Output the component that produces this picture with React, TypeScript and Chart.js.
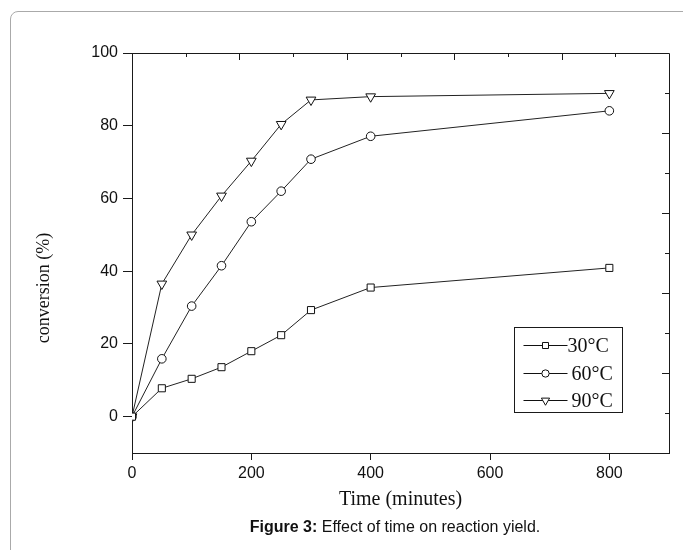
import React, { useEffect, useRef } from 'react';
import { Chart, registerables } from 'chart.js';

Chart.register(...registerables);

// ---- data ----
const times = [0, 50, 100, 150, 200, 250, 300, 400, 800];
const conv30 = [0, 7.8, 10.4, 13.6, 18.0, 22.4, 29.3, 35.5, 40.9];
const conv60 = [0, 15.9, 30.4, 41.5, 53.6, 62.0, 70.8, 77.1, 84.1];
const conv90 = [0, 36.5, 50.0, 60.7, 70.3, 80.4, 87.1, 88.0, 88.9];
const seriesLabels = ['30°C', '60°C', '90°C'];
const xTicks = [0, 200, 400, 600, 800];
const yTicks = [0, 20, 40, 60, 80, 100];
const xTitle = 'Time (minutes)';
const yTitle = 'conversion (%)';

const AXIS = '#1a1a1a';
const SANS = "'Liberation Sans', Arial, sans-serif";
const SERIF = "'Liberation Serif', 'Times New Roman', serif";

function drawMarker(ctx: CanvasRenderingContext2D, style: string, x: number, y: number, r: number, rot: number) {
  ctx.beginPath();
  if (style === 'rect') {
    const s = r * Math.SQRT1_2;
    ctx.rect(x - s, y - s, 2 * s, 2 * s);
  } else if (style === 'circle') {
    ctx.arc(x, y, r, 0, Math.PI * 2);
  } else if (style === 'triangle') {
    let rad = (rot * Math.PI) / 180;
    ctx.moveTo(x + Math.sin(rad) * r, y - Math.cos(rad) * r);
    rad += (2 * Math.PI) / 3;
    ctx.lineTo(x + Math.sin(rad) * r, y - Math.cos(rad) * r);
    rad += (2 * Math.PI) / 3;
    ctx.lineTo(x + Math.sin(rad) * r, y - Math.cos(rad) * r);
    ctx.closePath();
  }
  ctx.fillStyle = '#fff';
  ctx.fill();
  ctx.stroke();
}

const framePlugin = {
  id: 'frame',
  afterDraw(chart: any) {
    const { ctx, chartArea } = chart;
    const { left, right, top, bottom } = chartArea;
    ctx.save();
    ctx.strokeStyle = AXIS;
    ctx.lineWidth = 1;
    ctx.beginPath();
    ctx.moveTo(left, top + 0.5);
    ctx.lineTo(right + 0.5, top + 0.5);
    ctx.lineTo(right + 0.5, bottom);
    for (let i = 1; i < 10; i++) {
      const len = i % 2 === 0 ? 7 : 4;
      const x = Math.round(left + ((right - left) * i) / 10) + 0.5;
      ctx.moveTo(x, top);
      ctx.lineTo(x, top + len);
      const y = Math.round(top + ((bottom - top) * i) / 10) + 0.5;
      ctx.moveTo(right, y);
      ctx.lineTo(right - len, y);
    }
    ctx.stroke();

    // y axis title (drawn rotated)
    ctx.fillStyle = '#111';
    ctx.font = `18px ${SERIF}`;
    ctx.textAlign = 'center';
    ctx.textBaseline = 'middle';
    ctx.translate(44, 288);
    ctx.rotate(-Math.PI / 2);
    ctx.fillText(yTitle, 0, 0);
    ctx.restore();
  },
};

const legendPlugin = {
  id: 'boxLegend',
  afterDraw(chart: any) {
    const { ctx, chartArea } = chart;
    const x0 = Math.round(chartArea.left + 382) + 0.5;
    const y0 = Math.round(chartArea.top + 274) + 0.5;
    const w = 108;
    const h = 85;
    ctx.save();
    ctx.strokeStyle = AXIS;
    ctx.lineWidth = 1;
    ctx.strokeRect(x0, y0, w, h);
    const rows = [18, 46, 73];
    const gaps = [0, 4, 4];
    chart.data.datasets.forEach((ds: any, i: number) => {
      const y = y0 + rows[i];
      ctx.strokeStyle = '#111';
      ctx.beginPath();
      ctx.moveTo(x0 + 9, y);
      ctx.lineTo(x0 + 53, y);
      ctx.stroke();
      drawMarker(ctx, ds.pointStyle, x0 + 31, y, ds.pointRadius * 0.85, ds.pointRotation || 0);
      ctx.fillStyle = '#111';
      ctx.font = `20px ${SERIF}`;
      ctx.textAlign = 'left';
      ctx.textBaseline = 'middle';
      ctx.fillText(ds.label, x0 + 53 + gaps[i], y + 1);
    });
    ctx.restore();
  },
};

export default function App() {
  const ref = useRef<HTMLCanvasElement | null>(null);

  useEffect(() => {
    if (!ref.current) return;
    const common = {
      borderColor: '#222',
      borderWidth: 1,
      pointBackgroundColor: '#fff',
      pointBorderColor: '#111',
      pointBorderWidth: 1,
      fill: false,
      tension: 0,
    };
    const chart = new Chart(ref.current, {
      type: 'line',
      data: {
        datasets: [
          { ...common, label: seriesLabels[0], data: times.map((t, i) => ({ x: t, y: conv30[i] })), pointStyle: 'rect', pointRadius: 5 },
          { ...common, label: seriesLabels[1], data: times.map((t, i) => ({ x: t, y: conv60[i] })), pointStyle: 'circle', pointRadius: 4.3 },
          { ...common, label: seriesLabels[2], data: times.map((t, i) => ({ x: t, y: conv90[i] })), pointStyle: 'triangle', pointRotation: 180, pointRadius: 5.6 },
        ],
      },
      options: {
        animation: false,
        responsive: false,
        devicePixelRatio: 1,
        layout: { padding: { left: 0, top: 53, right: 14, bottom: 0 } },
        plugins: { legend: { display: false }, tooltip: { enabled: false } },
        scales: {
          x: {
            type: 'linear',
            min: 0,
            max: 900,
            afterBuildTicks: (s: any) => { s.ticks = xTicks.map((v) => ({ value: v })); },
            afterFit: (s: any) => { s.height = 97; },
            grid: { drawOnChartArea: false, tickLength: 7, tickColor: AXIS, tickWidth: 1 },
            border: { color: AXIS, width: 1 },
            ticks: { padding: 4, color: '#111', font: { family: SANS, size: 16 }, maxRotation: 0 },
            title: { display: true, text: xTitle, color: '#111', font: { family: SERIF, size: 20, weight: 'normal' }, padding: { top: 0, bottom: 38 } },
          },
          y: {
            type: 'linear',
            min: -10,
            max: 100,
            afterBuildTicks: (s: any) => { s.ticks = yTicks.map((v) => ({ value: v })); },
            afterFit: (s: any) => { s.width = 132; },
            grid: { drawOnChartArea: false, tickLength: 9, tickColor: AXIS, tickWidth: 1 },
            border: { color: AXIS, width: 1 },
            ticks: { padding: 5, color: '#111', font: { family: SANS, size: 16 } },
          },
        },
      },
      plugins: [framePlugin, legendPlugin],
    } as any);
    return () => chart.destroy();
  }, []);

  return (
    <div>
      <div
        style={{
          position: 'fixed',
          left: 10,
          top: 11,
          width: 720,
          height: 600,
          border: '1px solid #aaa',
          borderRadius: 8,
          boxSizing: 'border-box',
        }}
      />
      <canvas
        ref={ref}
        width={683}
        height={550}
        style={{ position: 'fixed', left: 0, top: 0, width: 683, height: 550 }}
      />
      <div
        style={{
          position: 'fixed',
          left: 0,
          top: 517,
          width: 790,
          textAlign: 'center',
          fontFamily: SANS,
          fontSize: 16,
          lineHeight: '20px',
          color: '#111',
        }}
      >
        <b>Figure 3:</b> Effect of time on reaction yield.
      </div>
    </div>
  );
}
